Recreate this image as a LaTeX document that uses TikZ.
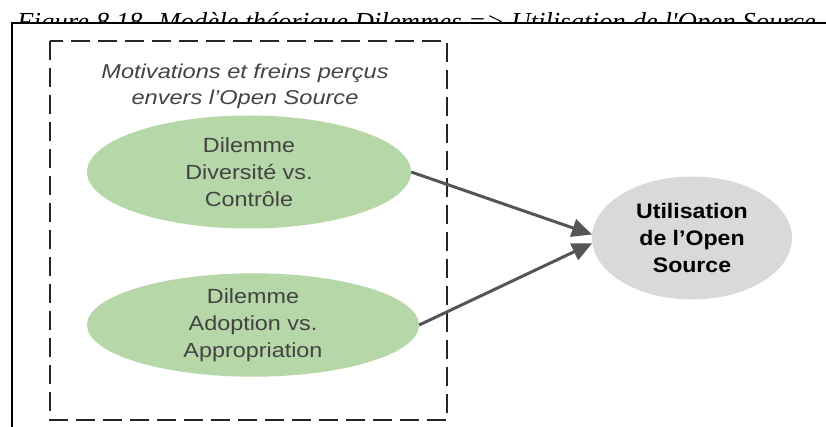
\documentclass[tikz,border=0pt]{standalone}
\usepackage{fontspec}
\setmainfont{Liberation Sans}
\newfontfamily\diagfont[FakeStretch=1.14]{Liberation Sans}
\newfontfamily\groupfont[FakeStretch=1.18]{Liberation Sans}
\newfontfamily\usagefont[FakeStretch=1.1]{Liberation Sans}
\newfontfamily\captionfont[FakeStretch=1.03]{Liberation Serif}
\usetikzlibrary{shapes.geometric,arrows.meta}
\definecolor{dilgreen}{HTML}{B6D7A8}
\definecolor{usegray}{HTML}{D9D9D9}
\definecolor{txtgray}{HTML}{434343}
\definecolor{arrgray}{HTML}{555555}
\begin{document}
\begin{tikzpicture}[x=1pt,y=-1pt]
\tikzset{
    dilemma/.style={ellipse, fill=dilgreen, inner sep=0pt, align=center, text=txtgray, font=\diagfont\fontsize{20.5}{27}\selectfont},
    usage/.style={ellipse, fill=usegray, inner sep=0pt, align=center, text=black, font=\usagefont\fontsize{21}{27}\selectfont\bfseries},
    link/.style={draw=arrgray, line width=3pt, -{Triangle[length=20pt,width=18pt]}},
}
\useasboundingbox (0,0) rectangle (826,427);

% Caption, half hidden behind the frame.
\node[anchor=base west, inner sep=0pt, font=\captionfont\itshape\fontsize{26}{30}\selectfont] (caption) at (17,31) {Figure 8.18. Modèle théorique Dilemmes => Utilisation de l'Open Source};
\fill[white] (12,22) rectangle (830,430);
\draw[line width=2pt] (830,23) -- (12,23) -- (12,430);

% Dashed group of the dilemmas.
\draw[line width=2pt, black!85, dash pattern=on 19pt off 8pt] (50,41) rectangle (447,420);
\node[align=center, text=txtgray, font=\groupfont\fontsize{20}{26}\selectfont\itshape] (group) at (245,86) {Motivations et freins perçus\\envers l’Open Source};

% The three ellipses.
\node[dilemma, minimum width=324pt, minimum height=113pt] (div) at (249,172) {Dilemme\\Diversité vs.\\Contrôle};
\node[dilemma, minimum width=332pt, minimum height=103pt] (adopt) at (253,325) {Dilemme\\Adoption vs.\\Appropriation};
\node[usage, minimum width=200pt, minimum height=123pt] (use) at (692,238) {Utilisation\\de l’Open\\Source};

% Arrows.
\draw[link] (div.east) -- (use.178);
\draw[link] (adopt.east) -- (use.183);
\end{tikzpicture}
\end{document}
